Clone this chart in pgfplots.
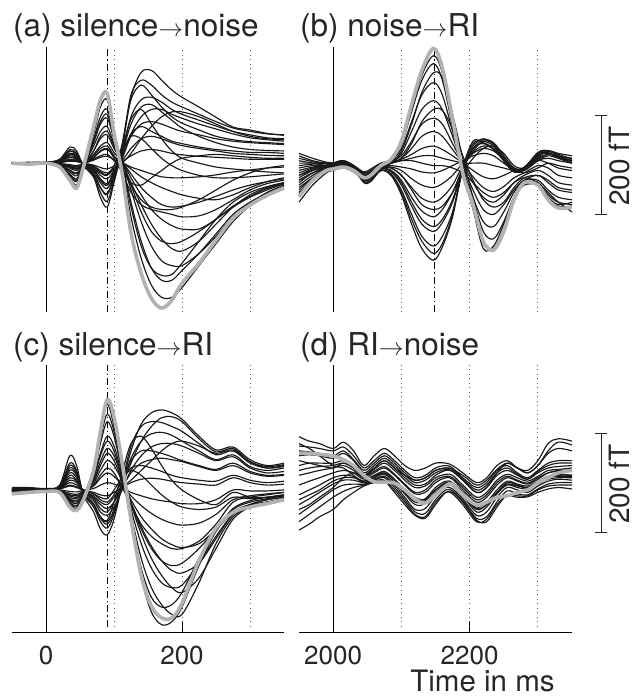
\documentclass[border=0pt]{standalone}
\usepackage{pgfplots}
\pgfplotsset{compat=1.18}
\usepackage{pgfplotstable}
\usepackage{fontspec}
\setmainfont{TeX Gyre Heros}
\newcommand\ftitle{\fontsize{31.5}{36}\selectfont}
\newcommand\fxlab{\fontsize{29.5}{36}\selectfont}
\newcommand\flab{\fontsize{28}{32}\selectfont}
\newcommand\ftick{\fontsize{26}{32}\selectfont}

\pgfplotstableread[header=true]{
ch -50 -25 0 20 35 45 55 70 80 90 100 112 125 140 155 170 185 200 225 250 275 300 325 350
g 0 -2 0 -8 -35 -51 -8 74 129 143 61 -21 -143 -226 -277 -297 -281 -246 -205 -158 -113 -86 -66 -51
p1 0 2 2 8 33 25 -5 -29 -70 -90 -40 30 135 186 190 170 150 135 115 94 74 68 61 57
p2 0 1 2 6 28 20 -4 -25 -60 -78 -35 35 140 170 160 140 125 115 100 85 72 65 60 58
p3 0 1 1 5 24 18 -3 -20 -50 -65 -30 20 95 130 135 125 110 100 88 76 65 58 52 50
p4 0 0 1 4 18 14 -2 -16 -40 -52 -25 10 60 95 110 110 100 92 80 70 60 52 48 45
p5 0 0 1 3 15 11 -2 -13 -32 -42 -20 10 55 80 85 80 72 65 58 50 45 42 40 38
p6 0 0 0 3 12 9 -1 -10 -25 -32 -15 15 60 75 65 55 45 40 33 28 25 22 22 20
p7 0 0 0 2 8 6 -1 -7 -18 -24 -12 5 30 50 55 50 42 36 30 25 20 18 16 15
p8 0 0 0 1 4 3 0 -4 -9 -12 -6 3 15 25 28 25 20 17 14 12 10 8 8 8
p9 0 0 0 2 6 5 -1 -6 -15 -20 -10 0 20 50 75 95 105 105 95 80 65 55 50 48
p10 0 1 1 4 20 15 -3 -15 -35 -45 -15 30 90 110 80 50 25 10 0 -8 -12 -15 -18 -20
p11 0 1 2 6 25 18 -4 -22 -50 -62 -25 40 130 160 140 115 95 82 68 55 48 44 42 40
p12 0 0 1 4 18 13 -2 -14 -35 -45 -20 20 80 115 120 105 88 72 55 42 33 28 26 25
n2 0 -2 0 -7 -30 -45 -10 60 115 130 65 -5 -110 -195 -250 -275 -275 -255 -210 -165 -120 -88 -68 -52
n3 0 -1 0 -6 -25 -38 -8 50 95 110 55 0 -80 -160 -215 -240 -240 -220 -185 -145 -105 -80 -62 -48
n4 0 -1 0 -5 -22 -32 -6 42 80 92 50 5 -55 -120 -170 -200 -210 -210 -185 -150 -110 -82 -60 -45
n5 0 -1 0 -4 -18 -26 -5 35 65 75 40 5 -45 -100 -140 -160 -165 -160 -140 -115 -88 -68 -52 -42
n6 0 0 0 -3 -14 -20 -4 25 50 58 30 5 -30 -65 -95 -115 -128 -135 -135 -115 -90 -70 -55 -42
n7 0 0 0 -2 -10 -15 -3 18 35 42 22 3 -22 -50 -70 -85 -90 -88 -80 -68 -55 -45 -38 -32
n8 0 0 0 -1 -6 -10 -2 12 24 28 14 2 -12 -28 -40 -50 -58 -65 -72 -75 -65 -50 -38 -30
n9 0 0 0 -1 -3 -5 -1 6 12 14 7 1 -8 -15 -22 -28 -30 -30 -28 -24 -18 -14 -10 -8
n10 0 -1 0 -4 -15 -22 -5 25 55 65 35 0 -40 -85 -125 -155 -175 -180 -160 -125 -90 -65 -50 -40
n11 0 0 0 -2 -8 -12 -3 15 30 35 15 -10 -45 -75 -90 -95 -95 -90 -75 -55 -35 -20 -10 -5
n12 0 -1 0 -5 -25 -35 -8 45 85 100 50 -5 -90 -170 -215 -230 -228 -205 -160 -115 -80 -60 -48 -40
n13 0 0 0 -2 -8 -12 -2 10 25 30 10 -20 -60 -85 -95 -100 -105 -110 -108 -95 -75 -55 -42 -35
m1 0 0 1 3 12 8 -2 -10 -20 -25 -5 25 55 50 30 10 -5 -15 -25 -30 -30 -28 -25 -22
m2 0 0 0 -1 -5 -7 -1 8 15 18 5 -15 -40 -45 -30 -15 0 10 15 18 15 12 10 10
}\rawA
\pgfplotstabletranspose[colnames from=ch,input colnames to=t]{\tabA}{\rawA}

\pgfplotstableread[header=true]{
ch 1950 1970 1990 2000 2015 2030 2045 2055 2070 2085 2100 2115 2130 2147 2160 2175 2190 2205 2220 2235 2250 2265 2280 2300 2315 2330 2350
g -69 -35 -15 -12 -8 -15 -30 -25 -5 8 45 120 190 235 195 90 -21 -85 -160 -178 -140 -75 -40 -45 -75 -92 -90
b1 -55 -30 -12 -10 -5 -12 -28 -22 -5 5 38 105 170 204 170 75 -20 -95 -175 -170 -125 -70 -40 -40 -65 -80 -85
b2 -40 -20 -8 -5 0 -8 -25 -20 -3 5 30 85 140 165 140 65 -10 -70 -120 -130 -100 -60 -35 -35 -55 -70 -75
b3 -80 -45 -20 -15 -10 -18 -35 -30 -10 0 20 65 110 128 110 55 -5 -55 -95 -105 -85 -55 -35 -25 -40 -55 -60
b4 -20 -10 -5 -5 0 -5 -20 -15 0 5 15 45 80 92 80 40 0 -40 -70 -80 -65 -40 -25 -15 -25 -40 -45
b5 -50 -30 -15 -10 -5 -10 -25 -20 -5 0 10 30 55 65 55 28 0 -28 -50 -58 -48 -30 -20 -5 -10 -25 -30
b6 -30 -15 -5 0 5 -5 -18 -12 0 3 8 18 30 35 28 15 0 -15 -28 -32 -25 -15 -10 5 0 -10 -15
b7 15 5 0 0 5 -10 -40 -38 -15 -25 -65 -125 -175 -199 -172 -110 -10 45 42 30 5 -18 -10 22 26 15 5
b8 5 0 -5 -5 0 -12 -38 -35 -15 -22 -55 -105 -150 -170 -150 -100 -15 35 50 38 10 -15 -8 18 24 18 8
b9 20 10 2 0 3 -8 -35 -32 -12 -18 -45 -88 -125 -140 -122 -80 -15 30 40 28 5 -18 -12 15 20 12 2
b10 -10 -5 -5 -5 0 -10 -32 -30 -12 -15 -35 -70 -98 -110 -95 -60 -10 22 35 30 10 -12 -15 10 18 15 10
b11 0 0 0 0 5 -5 -28 -25 -8 -10 -25 -50 -72 -80 -70 -45 -5 25 45 40 15 -10 -12 12 25 20 15
b12 -15 -8 -5 -3 2 -8 -25 -22 -8 -8 -15 -32 -45 -50 -42 -25 0 20 30 25 8 -10 -15 5 15 10 5
b13 -35 -20 -10 -5 0 -8 -22 -20 -5 -5 -8 -12 -18 -20 -15 -5 5 15 20 15 0 -15 -20 -10 0 -5 -10
b14 -60 -35 -15 -10 -5 -12 -30 -25 -8 0 5 5 0 -5 -5 -10 -20 -40 -60 -70 -60 -40 -30 -40 -60 -80 -100
b15 -25 -15 -8 -8 -3 -10 -25 -20 -5 0 25 80 145 185 175 100 10 -70 -140 -155 -120 -70 -45 -45 -70 -85 -80
b16 -45 -25 -10 -8 -3 -12 -35 -30 -12 -15 -40 -80 -115 -130 -115 -75 -10 30 48 42 15 -10 -10 15 22 10 0
b17 -62 -33 -14 -11 -6 -14 -29 -24 -5 6 42 112 180 220 185 85 -18 -90 -165 -175 -135 -72 -42 -42 -70 -88 -88
b18 -35 -20 -10 -8 -3 -10 -25 -20 -5 0 10 40 85 110 108 70 15 -35 -75 -90 -80 -50 -30 -25 -35 -50 -55
b19 10 3 -2 -3 2 -12 -38 -36 -15 -25 -60 -115 -160 -185 -165 -105 -12 40 45 35 8 -15 -10 20 25 15 5
b20 -25 -12 -6 -5 0 -8 -28 -25 -10 -10 -25 -55 -85 -95 -88 -60 -20 10 30 35 20 -5 -10 8 18 12 5
b21 -5 -2 0 0 4 -5 -20 -18 -4 0 5 10 15 15 10 5 0 0 0 -5 -10 -15 -15 5 10 5 0
}\rawB
\pgfplotstabletranspose[colnames from=ch,input colnames to=t]{\tabB}{\rawB}

\pgfplotstableread[header=true]{
ch -50 -25 0 20 35 45 55 70 80 90 100 112 125 140 155 170 185 200 225 250 275 300 325 350
g -8 -5 -3 -5 -35 -42 -20 40 120 185 150 55 -60 -175 -238 -262 -262 -232 -145 -78 -46 -35 -28 -20
p1 5 5 3 10 70 50 -10 -45 -80 -92 -60 10 80 135 158 164 158 145 110 82 88 62 50 55
p2 3 3 2 8 55 40 -8 -35 -65 -78 -50 15 90 130 140 138 130 120 95 72 80 55 45 50
p3 0 2 2 6 45 32 -5 -28 -55 -65 -40 10 65 100 115 118 112 100 80 62 72 48 40 45
p4 2 0 0 5 35 25 -3 -22 -45 -52 -35 0 40 70 88 95 95 90 75 60 68 45 35 38
p5 0 0 0 4 25 18 -2 -15 -30 -38 -25 5 35 55 62 65 62 58 48 40 50 35 28 30
p6 -3 -2 0 3 15 10 0 -8 -20 -25 -10 20 45 50 45 38 30 25 20 18 30 20 15 18
p7 0 0 0 2 8 5 0 -5 -10 -12 -5 5 15 22 24 22 18 15 12 10 25 15 10 12
p8 0 0 0 3 20 15 -2 -12 -25 -30 -15 5 20 40 60 80 95 100 90 75 82 58 45 48
p9 2 2 2 6 40 30 -5 -30 -55 -62 -25 35 95 110 85 50 20 0 -20 -30 -5 -15 -15 -10
p10 3 3 2 7 50 36 -6 -30 -58 -70 -45 8 55 100 130 148 150 140 105 78 85 58 48 52
p11 0 0 1 4 30 20 -3 -18 -38 -45 -25 15 60 80 80 75 68 60 50 42 55 38 30 32
n2 -5 -3 -2 -4 -30 -38 -15 45 120 175 130 40 -70 -180 -250 -276 -270 -240 -155 -85 -45 -30 -25 -22
n3 -8 -5 -3 -4 -25 -32 -12 35 95 140 110 35 -50 -140 -200 -235 -255 -255 -190 -110 -55 -35 -25 -18
n4 -5 -5 -2 -3 -22 -28 -10 28 75 110 90 30 -40 -110 -160 -190 -200 -195 -150 -95 -50 -30 -20 -15
n5 -5 -3 -2 -3 -18 -22 -8 20 58 85 70 25 -30 -80 -120 -145 -155 -150 -120 -80 -40 -25 -18 -12
n6 -5 -2 0 -2 -12 -15 -5 14 40 60 50 18 -20 -55 -80 -100 -112 -118 -110 -80 -38 -22 -15 -10
n7 -3 -2 0 -1 -7 -9 -3 8 24 35 28 10 -12 -32 -48 -60 -68 -72 -68 -50 -20 -12 -8 -5
n8 0 0 0 0 -3 -4 -1 3 10 15 12 5 -5 -12 -18 -22 -25 -28 -28 -20 0 -2 -2 0
n9 -5 -3 -2 -3 -20 -25 -10 25 70 100 80 25 -30 -90 -140 -175 -200 -210 -180 -120 -60 -35 -25 -18
n10 -3 -2 -1 -2 -10 -12 -5 10 30 45 35 5 -30 -70 -95 -110 -120 -120 -105 -70 -25 -15 -10 -5
n11 -6 -4 -2 -4 -28 -35 -12 40 105 155 120 40 -60 -160 -220 -240 -235 -210 -140 -82 -48 -32 -25 -20
n12 -4 -3 -1 -3 -15 -18 -6 18 50 75 60 20 -25 -75 -115 -145 -165 -170 -150 -100 -50 -30 -20 -15
m1 0 0 0 2 10 6 -1 -8 -15 -18 0 25 40 30 10 -10 -25 -35 -40 -35 -15 -18 -15 -12
}\rawC
\pgfplotstabletranspose[colnames from=ch,input colnames to=t]{\tabC}{\rawC}

\pgfplotstableread[header=true]{
ch 1950 1965 1980 2000 2015 2030 2045 2060 2075 2090 2105 2120 2135 2150 2165 2175 2190 2210 2225 2240 2255 2270 2285 2300 2315 2330 2350
g 75 75 73 70 62 50 30 17 16 14 0 -18 -27 -10 8 12 -10 -31 -25 -15 -12 -5 0 15 25 35 40
d1 109 100 95 85 98 80 50 70 85 70 50 40 45 55 55 50 35 15 25 50 60 45 35 50 80 98 92
d2 90 88 85 80 88 70 45 60 75 60 40 25 30 45 50 45 25 5 15 40 50 35 25 40 55 60 60
d3 70 72 70 65 75 60 35 50 65 50 30 15 20 35 42 38 20 -5 5 30 40 30 22 35 45 48 50
d4 50 55 55 55 60 50 30 42 55 40 20 5 8 25 32 30 10 -15 -5 20 32 25 18 28 40 42 45
d5 30 35 40 45 50 40 25 35 45 30 10 -8 -5 15 25 22 0 -25 -15 10 25 18 12 22 35 38 38
d6 10 18 25 35 40 35 22 30 38 22 0 -20 -18 5 18 15 -5 -35 -25 0 18 12 8 18 28 32 30
d7 -10 0 10 25 30 28 18 25 32 15 -8 -30 -28 -5 10 8 -12 -45 -35 -8 10 5 2 12 22 25 25
d8 -30 -18 -5 12 20 20 15 22 28 10 -15 -40 -38 -12 5 2 -18 -52 -45 -15 5 0 -5 8 18 22 20
d9 -50 -35 -20 0 10 12 12 20 25 5 -20 -45 -48 -20 0 -2 -22 -58 -55 -25 -2 -8 -10 2 12 15 15
d10 -65 -50 -35 -15 -3 5 10 18 20 0 -25 -50 -55 -25 -5 -5 -25 -62 -65 -35 -10 -12 -12 0 8 10 10
d11 -82 -70 -55 -40 -20 -5 8 15 18 -5 -30 -52 -58 -30 -5 -8 -30 -65 -60 -30 -12 -15 -14 -5 2 5 2
d12 95 85 70 50 45 30 15 25 35 20 0 -15 -20 0 15 12 -10 -40 -30 -5 15 10 5 15 25 30 30
d13 -40 -30 -15 5 25 35 30 45 60 45 25 10 12 30 40 38 20 -5 5 35 55 45 35 50 75 85 80
d14 80 78 75 70 80 62 40 55 70 55 35 20 25 40 45 42 22 0 10 35 45 32 22 38 50 55 55
d15 -20 -10 0 18 25 25 18 28 35 15 -5 -25 -22 0 12 10 -8 -38 -30 -5 12 8 5 15 25 28 28
d16 40 45 48 50 55 45 28 38 48 32 12 -5 0 20 28 25 5 -20 -10 15 28 20 14 25 35 40 40
d17 60 55 50 45 55 45 30 45 60 45 30 20 25 40 45 42 30 10 20 42 55 45 40 60 95 105 100
}\rawD
\pgfplotstabletranspose[colnames from=ch,input colnames to=t]{\tabD}{\rawD}

\pgfplotsset{
  meg/.style={black!90, line width=1.15pt, smooth, tension=0.55},
  megg/.style={black!30, line width=3.6pt, smooth, tension=0.55},
  vsolid/.style={black, line width=0.9pt},
  vdot/.style={black!65, line width=0.9pt, dash pattern=on 0.9pt off 3.6pt},
  vdash/.style={black, line width=0.9pt, dash pattern=on 7pt off 3pt on 1.2pt off 3pt},
  toppanel/.style={scale only axis, clip=false, axis lines=none, xtick=\empty, ytick=\empty,
    anchor=south west, height=265pt, ymin=-305, ymax=238},
  botpanel/.style={scale only axis, clip=false, axis x line*=bottom, axis y line=none,
    ytick=\empty, anchor=south west, height=267pt, ymin=-291, ymax=256,
    axis line style={black, line width=0.9pt},
    major tick length=10pt, tick align=inside,
    x tick style={black, line width=0.9pt},
    xticklabel style={font=\ftick, black!85, inner sep=0pt, yshift=-13.5pt}},
}

\begin{document}
\begin{tikzpicture}
\path[use as bounding box] (0pt,0pt) rectangle (635pt,696pt);

% (a)
\begin{axis}[toppanel, at={(12pt,384pt)}, width=272pt, xmin=-50, xmax=350]
\addplot[vsolid] coordinates {(0,-305) (0,238)};
\addplot[vdot] coordinates {(100,-305) (100,238)};
\addplot[vdot] coordinates {(200,-305) (200,238)};
\addplot[vdot] coordinates {(300,-305) (300,238)};
\addplot[vdash] coordinates {(90,-305) (90,238)};
\pgfplotsinvokeforeach{p1,p2,p3,p4,p5,p6,p7,p8,p9,p10,p11,p12,n2,n3,n4,n5,n6,n7,n8,n9,n10,n11,n12,n13,m1,m2}{
  \addplot[meg] table[x=t,y=#1]{\tabA};}
\addplot[megg] table[x=t,y=g]{\tabA};
\end{axis}

% (b)
\begin{axis}[toppanel, at={(299pt,384pt)}, width=273pt, xmin=1950, xmax=2350]
\addplot[vsolid] coordinates {(2000,-305) (2000,238)};
\addplot[vdot] coordinates {(2100,-305) (2100,238)};
\addplot[vdot] coordinates {(2200,-305) (2200,238)};
\addplot[vdot] coordinates {(2300,-305) (2300,238)};
\addplot[vdash] coordinates {(2148,-305) (2148,238)};
\pgfplotsinvokeforeach{b1,b2,b3,b4,b5,b6,b7,b8,b9,b10,b11,b12,b13,b14,b15,b16,b17,b18,b19,b20,b21}{
  \addplot[meg] table[x=t,y=#1]{\tabB};}
\addplot[megg] table[x=t,y=g]{\tabB};
\draw[line width=0.9pt, black!85] (axis cs:2393,-105) -- (axis cs:2393,98);
\draw[line width=0.9pt, black!85] (axis cs:2393,-105) ++(-6pt,0pt) -- ++(12pt,0pt);
\draw[line width=0.9pt, black!85] (axis cs:2393,98) ++(-6pt,0pt) -- ++(12pt,0pt);
\node[rotate=90, font=\flab, black!85, inner sep=0pt] at (axis cs:2420,-6) {200 fT};
\end{axis}

% (c)
\begin{axis}[botpanel, at={(12pt,64pt)}, width=272pt, xmin=-50, xmax=350,
  xtick={0,200}, xticklabels={0,200}]
\addplot[vsolid] coordinates {(0,-291) (0,256)};
\addplot[vdot] coordinates {(100,-280) (100,256)};
\addplot[vdot] coordinates {(200,-280) (200,256)};
\addplot[vdot] coordinates {(300,-280) (300,256)};
\addplot[vdash] coordinates {(90,-280) (90,256)};
\pgfplotsinvokeforeach{p1,p2,p3,p4,p5,p6,p7,p8,p9,p10,p11,n2,n3,n4,n5,n6,n7,n8,n9,n10,n11,n12,m1}{
  \addplot[meg] table[x=t,y=#1]{\tabC};}
\addplot[megg] table[x=t,y=g]{\tabC};
\end{axis}

% (d)
\begin{axis}[botpanel, at={(299pt,64pt)}, width=273pt, xmin=1950, xmax=2350,
  xtick={2000,2200}, xticklabels={2000,2200}]
\addplot[vsolid] coordinates {(2000,-291) (2000,256)};
\addplot[vdot] coordinates {(2100,-280) (2100,256)};
\addplot[vdot] coordinates {(2200,-280) (2200,256)};
\addplot[vdot] coordinates {(2300,-280) (2300,256)};
\pgfplotsinvokeforeach{d1,d2,d3,d4,d5,d6,d7,d8,d9,d10,d11,d12,d13,d14,d15,d16,d17}{
  \addplot[meg] table[x=t,y=#1]{\tabD};}
\addplot[megg] table[x=t,y=g]{\tabD};
\draw[line width=0.9pt, black!85] (axis cs:2393,-87) -- (axis cs:2393,115);
\draw[line width=0.9pt, black!85] (axis cs:2393,-87) ++(-6pt,0pt) -- ++(12pt,0pt);
\draw[line width=0.9pt, black!85] (axis cs:2393,115) ++(-6pt,0pt) -- ++(12pt,0pt);
\node[rotate=90, font=\flab, black!85, inner sep=0pt] at (axis cs:2420,12) {200 fT};
\end{axis}

% titles and label
\node[anchor=base west, inner sep=0pt, font=\ftitle, black!85] at (13pt,659pt) {(a) silence$\rightarrow$noise};
\node[anchor=base west, inner sep=0pt, font=\ftitle, black!85] at (300pt,659pt) {(b) noise$\rightarrow$RI};
\node[anchor=base west, inner sep=0pt, font=\ftitle, black!85] at (13pt,340pt) {(c) silence$\rightarrow$RI};
\node[anchor=base west, inner sep=0pt, font=\ftitle, black!85] at (300pt,340pt) {(d) RI$\rightarrow$noise};
\node[anchor=base, inner sep=0pt, font=\fxlab, black!85] at (482.5pt,5pt) {Time in ms};
\end{tikzpicture}
\end{document}
